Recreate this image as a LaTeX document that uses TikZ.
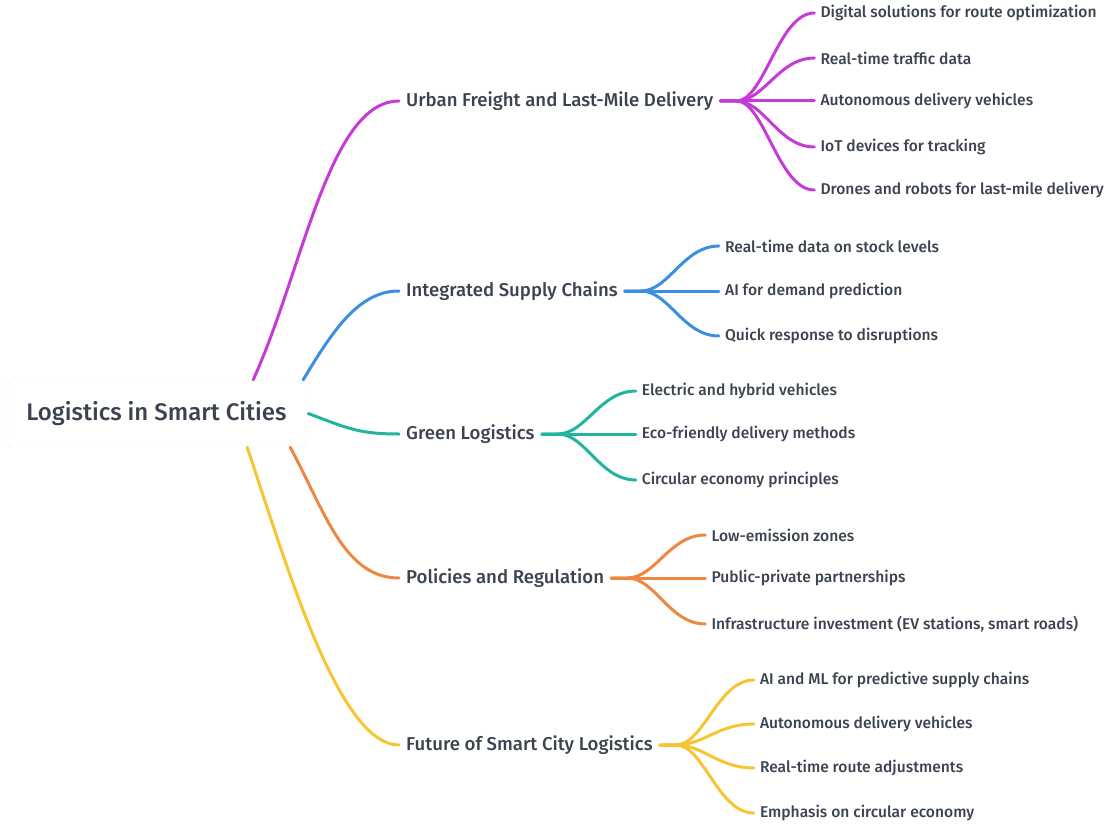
\documentclass[tikz,border=0pt]{standalone}
\usepackage{fontspec}
\setmainfont{Fira Sans}[UprightFont={* Medium}]
\usetikzlibrary{calc,positioning}
\definecolor{txt}{HTML}{3B4350}
\definecolor{cPurple}{HTML}{C63BD6}
\definecolor{cBlue}{HTML}{3A8FE0}
\definecolor{cTeal}{HTML}{22B49C}
\definecolor{cOrange}{HTML}{EE8742}
\definecolor{cYellow}{HTML}{F6C534}
\begin{document}
\begin{tikzpicture}[x=1pt,y=-1pt, every node/.style={text=txt, inner ysep=0pt},
  rootbox/.style={font=\fontsize{24}{28}\selectfont, draw=black!6, fill=white, rounded corners=4pt,
    minimum width=297pt, minimum height=67pt},
  branch/.style={font=\fontsize{18.6}{22}\selectfont, anchor=west, inner xsep=7pt},
  leaf/.style={font=\fontsize{15.6}{18}\selectfont, anchor=west, inner xsep=6pt},
  link/.style={line width=3pt, line cap=round}]
  \useasboundingbox (0,0) rectangle (1111,829);
  \node[rootbox] (root) at (156.5,413.5) {Logistics in Smart Cities};
  % main branches
  \node[branch] (urban) at (399,101) {Urban Freight and Last-Mile Delivery};
  \node[branch] (supply) at (399,291) {Integrated Supply Chains};
  \node[branch] (green) at (399,434) {Green Logistics};
  \node[branch] (policy) at (399,578) {Policies and Regulation};
  \node[branch] (future) at (399,745) {Future of Smart City Logistics};
  \draw[link,cPurple] ([xshift=-52pt]root.north east) .. controls +(50,-110) and +(-70,0) .. (urban.west);
  \draw[link,cBlue] ([xshift=-2pt]root.north east) .. controls +(30,-50) and +(-40,0) .. (supply.west);
  \draw[link,cTeal] ([xshift=3pt]root.east) .. controls +(40,15) and +(-40,0) .. (green.west);
  \draw[link,cOrange] ([xshift=-15pt]root.south east) .. controls +(35,65) and +(-55,0) .. (policy.west);
  \draw[link,cYellow] ([xshift=-58pt]root.south east) .. controls +(40,120) and +(-60,0) .. (future.west);
  % leaves
  \foreach \dy/\txt [count=\i] in {-88/Digital solutions for route optimization,
      -43/Real-time traffic data, 0/Autonomous delivery vehicles,
      46/IoT devices for tracking, 89/Drones and robots for last-mile delivery}{
    \path (urban.east) ++(94,\dy) node[leaf] (urban-\i) {\txt};
    \draw[link,cPurple] (urban.east) -- ++(16,0) .. controls +(28,0) and +(-36,0) .. (urban-\i.west);
  }
  \foreach \dy/\txt [count=\i] in {-45/Real-time data on stock levels,
      0/AI for demand prediction, 45/Quick response to disruptions}{
    \path (supply.east) ++(94,\dy) node[leaf] (supply-\i) {\txt};
    \draw[link,cBlue] (supply.east) -- ++(16,0) .. controls +(28,0) and +(-36,0) .. (supply-\i.west);
  }
  \foreach \dy/\txt [count=\i] in {-43/Electric and hybrid vehicles,
      0/Eco-friendly delivery methods, 46/Circular economy principles}{
    \path (green.east) ++(94,\dy) node[leaf] (green-\i) {\txt};
    \draw[link,cTeal] (green.east) -- ++(16,0) .. controls +(28,0) and +(-36,0) .. (green-\i.west);
  }
  \foreach \dy/\txt [count=\i] in {-43/Low-emission zones,
      0/Public-private partnerships, 46/{Infrastructure investment (EV stations, smart roads)}}{
    \path (policy.east) ++(94,\dy) node[leaf] (policy-\i) {\txt};
    \draw[link,cOrange] (policy.east) -- ++(16,0) .. controls +(28,0) and +(-36,0) .. (policy-\i.west);
  }
  \foreach \dy/\txt [count=\i] in {-65/AI and ML for predictive supply chains,
      -21/Autonomous delivery vehicles, 23/Real-time route adjustments,
      68/Emphasis on circular economy}{
    \path (future.east) ++(94,\dy) node[leaf] (future-\i) {\txt};
    \draw[link,cYellow] (future.east) -- ++(16,0) .. controls +(28,0) and +(-36,0) .. (future-\i.west);
  }
\end{tikzpicture}
\end{document}
